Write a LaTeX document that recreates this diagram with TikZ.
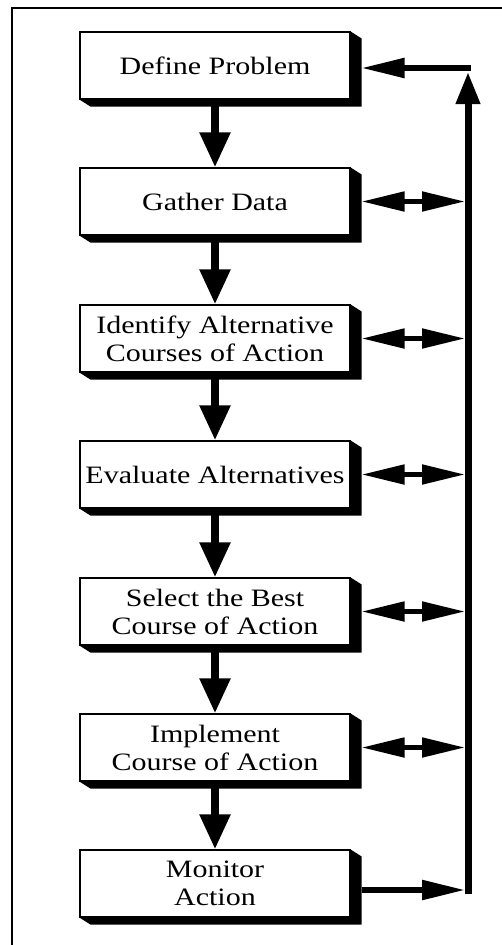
\documentclass[tikz,border=0pt]{standalone}
\usepackage{fontspec}
\setmainfont{Liberation Serif}[FakeStretch=1.2]
\usetikzlibrary{arrows.meta,calc}

\begin{document}
\begin{tikzpicture}[x=1pt,y=-1pt,
  stage/.style={draw=black,line width=1.1pt,fill=white,
    minimum width=270pt,minimum height=67pt,inner sep=0pt,
    align=center,font=\fontsize{25}{28}\selectfont},
  flow/.style={line width=8pt,-{Triangle[length=35pt,width=29pt]}},
  link/.style={line width=5pt,
    {Triangle[length=43pt,width=19pt]}-{Triangle[length=43pt,width=19pt]}},
  feed/.style={line width=5.5pt,-{Triangle[length=43pt,width=19pt]}},
  spine/.style={line width=7pt,-{Triangle[length=32pt,width=23pt]}},
  frame/.style={line width=1.6pt},
  shade/.style={fill=black}]

\useasboundingbox (0,0) rectangle (502,945);

% page frame
\draw[frame] (12,945) -- (12,8) -- (502,8);

% process stages
\node[stage] (b1) at (215,65.5)  {Define Problem};
\node[stage] (b2) at (215,201.5) {Gather Data};
\node[stage] (b3) at (215,338.5) {Identify Alternative\\Courses of Action};
\node[stage] (b4) at (215,474.5) {Evaluate Alternatives};
\node[stage] (b5) at (215,611.5) {Select the Best\\Course of Action};
\node[stage] (b6) at (215,747.5) {Implement\\Course of Action};
\node[stage] (b7) at (215,883.5) {Monitor\\Action};

% extruded shadow on the right and bottom of each stage
\foreach \b in {b1,b2,b3,b4,b5,b6,b7}{
  \fill[shade] (\b.north east) -- ++(11,7)
    -- ($(\b.south east)+(11,7)$) -- ($(\b.south west)+(11,7)$)
    -- (\b.south west) -- (\b.south east) -- cycle;
}

% downward flow between stages
\draw[flow] (b1.south) -- (b2.north);
\draw[flow] (b2.south) -- (b3.north);
\draw[flow] (b3.south) -- (b4.north);
\draw[flow] (b4.south) -- (b5.north);
\draw[flow] (b5.south) -- (b6.north);
\draw[flow] (b6.south) -- (b7.north);

% feedback loop
\coordinate (top) at (468,68);
\coordinate (bot) at (468,890);

\draw[line width=7pt,line cap=butt] (bot) -- ++(0,3.5);
\draw[spine] (bot) -- ($(top)+(0,4)$);
\draw[feed] ($(top)+(3,0)$) -- ($(b1.east|-top)+(11,0)$);
\draw[feed] ($(b7.east|-bot)+(11,0)$) -- ($(bot)+(-3,0)$);

% two-way links between the loop and the middle stages
\foreach \b in {b2,b3,b4,b5,b6}{
  \draw[link] ($(\b.east)+(11,0)$) -- ($(\b.east-|top)+(-3,0)$);
}
\end{tikzpicture}
\end{document}
